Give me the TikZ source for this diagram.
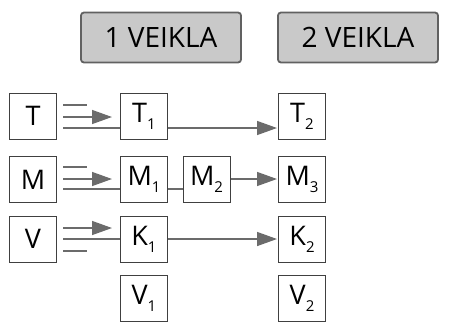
\documentclass[tikz,border=0pt]{standalone}
\usepackage{fontspec}
\setmainfont{Open Sans}
\usetikzlibrary{arrows.meta}
\newcommand{\sub}[1]{\raisebox{-7pt}{\fontsize{15pt}{15pt}\selectfont #1}}
\tikzset{
  hdr/.style={draw=black!62, line width=1.8pt, fill=black!21, rounded corners=3pt,
    minimum width=160pt, minimum height=50pt, inner sep=0pt, font=\fontsize{28pt}{28pt}\selectfont},
  bx/.style={draw=black!75, line width=1pt, fill=white, minimum width=47pt, minimum height=46pt,
    inner sep=0pt, font=\fontsize{27pt}{27pt}\selectfont},
  ln/.style={draw=black!58, line width=1.4pt},
  arr/.style={ln, -{Triangle[length=20pt,width=14pt]}, color=black!58}
}
\begin{document}
\begin{tikzpicture}[x=1pt,y=-1pt]
\useasboundingbox (0,0) rectangle (465,330);
\node[hdr] (H1) at (161,37.5) {1 VEIKLA};
\node[hdr] (H2) at (358,37.5) {2 VEIKLA};
\node[bx] (T) at (33,116) {T};
\node[bx] (M) at (33,179.5) {M};
\node[bx] (V) at (33,239) {V};
\node[bx] (T1) at (144,116) {T\sub{1}};
\node[bx] (M1) at (144,179.5) {M\sub{1}};
\node[bx] (K1) at (144,239) {K\sub{1}};
\node[bx] (V1) at (144,298.5) {V\sub{1}};
\node[bx] (M2) at (206.5,179.5) {M\sub{2}};
\node[bx] (T2) at (302,116) {T\sub{2}};
\node[bx] (M3) at (302,179.5) {M\sub{3}};
\node[bx] (K2) at (302,239) {K\sub{2}};
\node[bx] (V2) at (302,298.5) {V\sub{2}};
% T row
\draw[ln] ([xshift=6pt,yshift=11pt]T.east) -- ([xshift=30pt,yshift=11pt]T.east);
\draw[arr] ([xshift=6pt,yshift=-1pt]T.east) -- ([xshift=-8pt,yshift=-1pt]T1.west);
\draw[ln] ([xshift=6pt,yshift=-12pt]T.east) -- ([yshift=-12pt]T1.west);
\draw[arr] ([yshift=-12pt]T1.east) -- ([xshift=-1pt,yshift=-12pt]T2.west);
% M row
\draw[ln] ([xshift=6pt,yshift=12.5pt]M.east) -- ([xshift=30pt,yshift=12.5pt]M.east);
\draw[arr] ([xshift=6pt,yshift=0.5pt]M.east) -- ([xshift=-8pt,yshift=0.5pt]M1.west);
\draw[ln] ([xshift=6pt,yshift=-9.5pt]M.east) -- ([yshift=-9.5pt]M1.west);
\draw[ln] ([yshift=-9.5pt]M1.east) -- ([yshift=-9.5pt]M2.west);
\draw[arr] ([yshift=0.5pt]M2.east) -- ([xshift=-1pt,yshift=0.5pt]M3.west);
% V row
\draw[arr] ([xshift=6pt,yshift=11pt]V.east) -- ([xshift=-8pt,yshift=11pt]K1.west);
\draw[ln] (V.east) ++(6pt,0) -- (K1.west);
\draw[ln] ([xshift=6pt,yshift=-12pt]V.east) -- ([xshift=30pt,yshift=-12pt]V.east);
\draw[arr] (K1.east) -- ([xshift=-1pt]K2.west);
\end{tikzpicture}
\end{document}
